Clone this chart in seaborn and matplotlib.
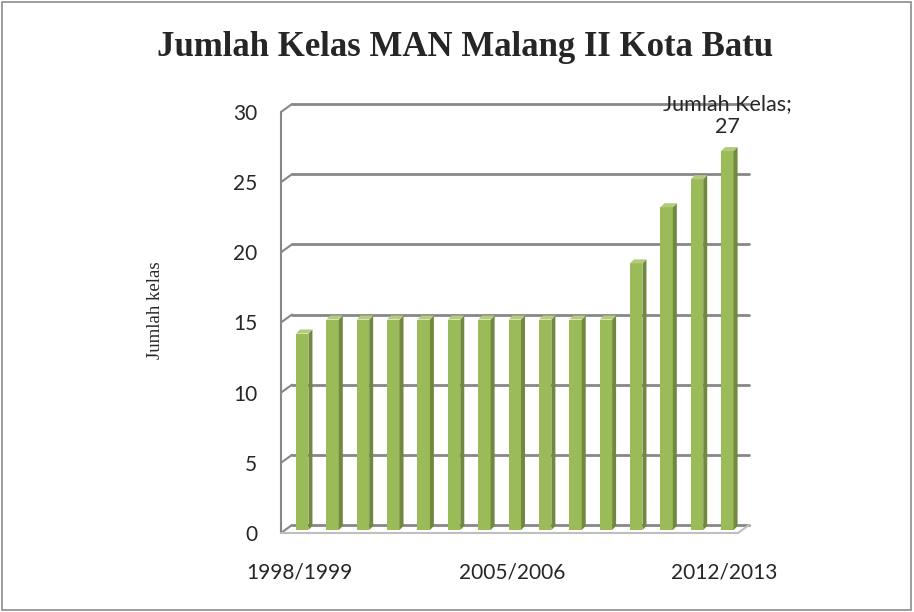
import matplotlib
matplotlib.use('Agg')
import matplotlib.pyplot as plt
import matplotlib.transforms as mtransforms
from matplotlib.patches import Polygon, Rectangle
import seaborn as sns

# data
tahun = ['1998/1999', '1999/2000', '2000/2001', '2001/2002', '2002/2003',
         '2003/2004', '2004/2005', '2005/2006', '2006/2007', '2007/2008',
         '2008/2009', '2009/2010', '2010/2011', '2011/2012', '2012/2013']
jumlah_kelas = [14, 15, 15, 15, 15, 15, 15, 15, 15, 15, 15, 19, 23, 25, 27]
y_ticks = [0, 5, 10, 15, 20, 25, 30]
x_label_every = 7

FRONT = '#9BBB59'
SIDE = '#71893F'
TOP = '#B3CB7B'
GRID = '#878787'
FLOOR = '#BFBFBF'
SANS = ['Lato', 'DejaVu Sans']
SERIF = ['Liberation Serif', 'DejaVu Serif']

sns.set_style('white')
DPI = 100
fig = plt.figure(figsize=(9.14, 6.12), dpi=DPI)
ax = fig.add_axes([281 / 914, 79 / 612, 457 / 914, 421 / 612])

sns.barplot(x=tahun, y=jumlah_kelas, color=FRONT, saturation=1, width=0.41,
            ax=ax, zorder=3)
ax.set_xlim(-0.6, 14.45)
ax.set_ylim(0, 30)
for s in ax.spines.values():
    s.set_visible(False)

DX, DY = 11, 8  # depth of the 3d box, in pixels
back = mtransforms.offset_copy(ax.get_yaxis_transform(), fig=fig, x=DX, y=DY, units='dots')

# back wall gridlines + little diagonals on the left wall
for t in y_ticks:
    ax.plot([0, 1], [t, t], transform=back, color=GRID, lw=2, zorder=1, clip_on=False)
    p0 = ax.get_yaxis_transform().transform((0, t))
    fig.add_artist(plt.Line2D([p0[0], p0[0] + DX], [p0[1], p0[1] + DY],
                              transform=None, color=GRID, lw=1.5))
# left wall
b0 = ax.get_yaxis_transform().transform((0, 0))
b1 = ax.get_yaxis_transform().transform((0, 30))
fig.add_artist(plt.Line2D([b0[0], b1[0]], [b0[1], b1[1]], transform=None, color=GRID, lw=1.5))
# floor front edge + right diagonal
r0 = ax.transAxes.transform((1, 0))
fig.add_artist(plt.Line2D([b0[0], r0[0], r0[0] + DX], [b0[1], r0[1], r0[1] + DY],
                          transform=None, color=FLOOR, lw=1.5))

# 3d faces of the bars
bar_off = mtransforms.offset_copy(ax.transData, fig=fig, x=3, y=3, units='dots')
d = 4
for p in list(ax.patches):
    p.set_transform(bar_off)
    p.set_edgecolor('none')
    x0, y0 = p.get_x(), p.get_y()
    (X0, Y0) = bar_off.transform((x0, y0))
    (X1, Y1) = bar_off.transform((x0 + p.get_width(), y0 + p.get_height()))
    side = Polygon([(X1, Y0), (X1, Y1), (X1 + d, Y1 + d), (X1 + d, Y0 + d)],
                   closed=True, transform=None, facecolor=SIDE, edgecolor='none', zorder=4)
    top = Polygon([(X0, Y1), (X1, Y1), (X1 + d, Y1 + d), (X0 + d, Y1 + d)],
                  closed=True, transform=None, facecolor=TOP, edgecolor='none', zorder=4)
    fig.add_artist(side)
    fig.add_artist(top)

# ticks
ax.set_yticks(y_ticks)
ax.set_yticklabels([str(t) for t in y_ticks], fontsize=15, family=SANS)
ticks_x = list(range(0, len(tahun), x_label_every))
ax.set_xticks(ticks_x)
ax.set_xticklabels([tahun[i] for i in ticks_x], fontsize=15, family=SANS)
ax.tick_params(axis='y', length=0, pad=17)
ax.tick_params(axis='x', length=0, pad=21)
ax.set_xlabel('')
fig.text(156 / 914, 1 - 310 / 612, 'Jumlah kelas', rotation=90, ha='center', va='center',
         fontsize=13.5, family=SERIF)

# data label on the last bar
ax.annotate('Jumlah Kelas;\n27', xy=(len(tahun) - 1, jumlah_kelas[-1]),
            xytext=(2, 12), textcoords='offset points', ha='center', va='bottom',
            multialignment='center', fontsize=15.5, family=SANS, linespacing=1.2)

fig.text(465 / 914, 1 - 48 / 612, 'Jumlah Kelas MAN Malang II Kota Batu', fontsize=25,
         fontweight='bold', family=SERIF, ha='center', va='center')

fig.add_artist(Rectangle((0.002, 0.004), 0.995, 0.992, transform=fig.transFigure,
                         fill=False, edgecolor='#8C8C8C', lw=1.2))

fig.savefig('out.png', dpi=DPI)
